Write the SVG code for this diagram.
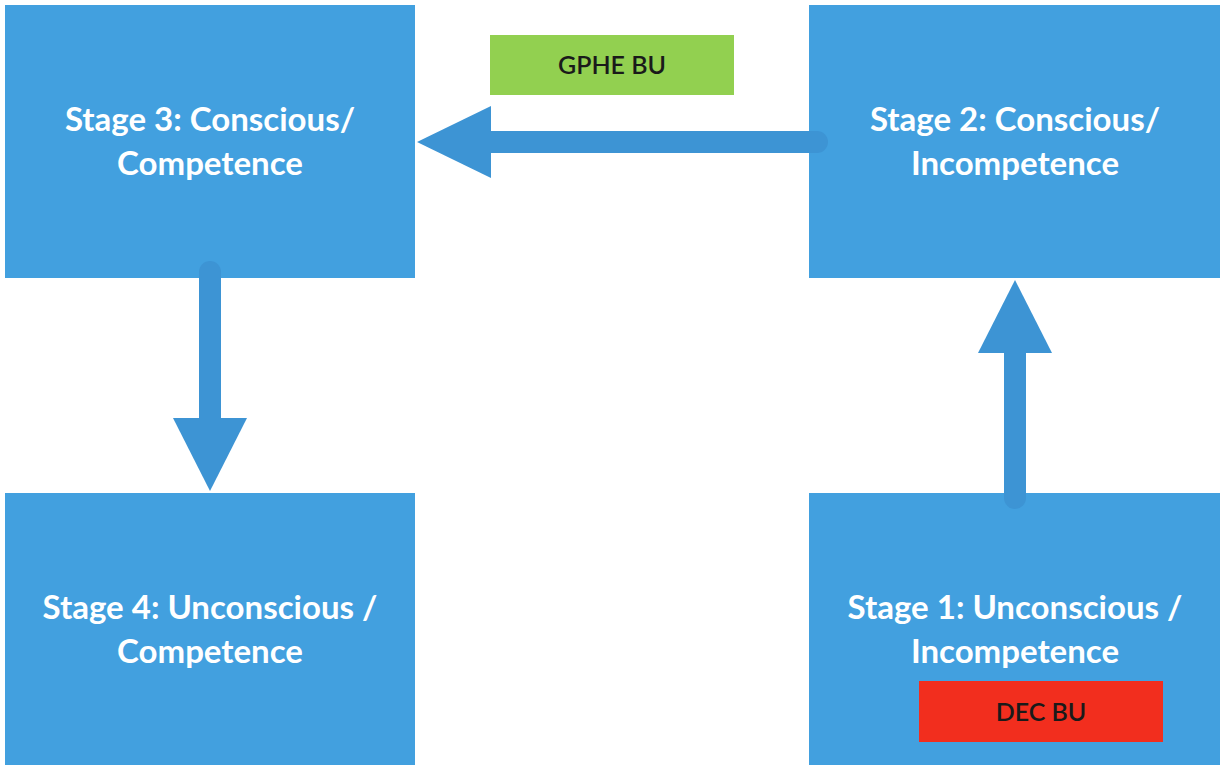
<svg xmlns="http://www.w3.org/2000/svg" width="1225" height="767" viewBox="0 0 1225 767">
  <defs>
    <style>
      .stage { fill: #42A0DF; }
      .stage-label { font-family: Lato, "Liberation Sans", sans-serif; font-weight: bold; font-size: 33px; fill: #FFFFFF; text-anchor: middle; }
      .tag-label { font-family: Lato, "Liberation Sans", sans-serif; font-size: 25px; font-weight: 600; fill: #1A1A1A; text-anchor: middle; }
      .shaft { stroke: #3D94D4; stroke-width: 22; stroke-linecap: round; fill: none; }
      .head { fill: #3D94D4; }
    </style>
  </defs>
  <rect width="1225" height="767" fill="#FFFFFF"/>

  <g id="stage3">
    <rect class="stage" x="5" y="5" width="410" height="273"/>
    <text class="stage-label" x="210" y="131">Stage 3: Conscious/</text>
    <text class="stage-label" x="210" y="175">Competence</text>
  </g>

  <g id="stage2">
    <rect class="stage" x="809" y="5" width="411" height="273"/>
    <text class="stage-label" x="1015" y="131">Stage 2: Conscious/</text>
    <text class="stage-label" x="1015" y="175">Incompetence</text>
  </g>

  <g id="stage4">
    <rect class="stage" x="5" y="493" width="410" height="272"/>
    <text class="stage-label" x="210" y="619">Stage 4: Unconscious /</text>
    <text class="stage-label" x="210" y="663">Competence</text>
  </g>

  <g id="stage1">
    <rect class="stage" x="809" y="493" width="411" height="272"/>
    <text class="stage-label" x="1015" y="619">Stage 1: Unconscious /</text>
    <text class="stage-label" x="1015" y="663">Incompetence</text>
  </g>

  <g id="gphe-bu">
    <rect x="490" y="35" width="244" height="60" fill="#92D050"/>
    <text class="tag-label" x="612" y="74">GPHE BU</text>
  </g>

  <g id="dec-bu">
    <rect x="919" y="681" width="244" height="61" fill="#F22E1E"/>
    <text class="tag-label" x="1041" y="721">DEC BU</text>
  </g>

  <!-- connectors, drawn over the stage boxes so the rounded tails show -->
  <g id="connectors">
    <!-- Stage 2 to Stage 3 -->
    <line class="shaft" x1="817" y1="142" x2="485" y2="142"/>
    <polygon class="head" points="417,142 491,106 491,178"/>
    <!-- Stage 3 to Stage 4 -->
    <line class="shaft" x1="210" y1="272" x2="210" y2="424"/>
    <polygon class="head" points="210,491 173,418 247,418"/>
    <!-- Stage 1 to Stage 2 -->
    <line class="shaft" x1="1015" y1="498" x2="1015" y2="347"/>
    <polygon class="head" points="1015,280 978,353 1052,353"/>
  </g>
</svg>
